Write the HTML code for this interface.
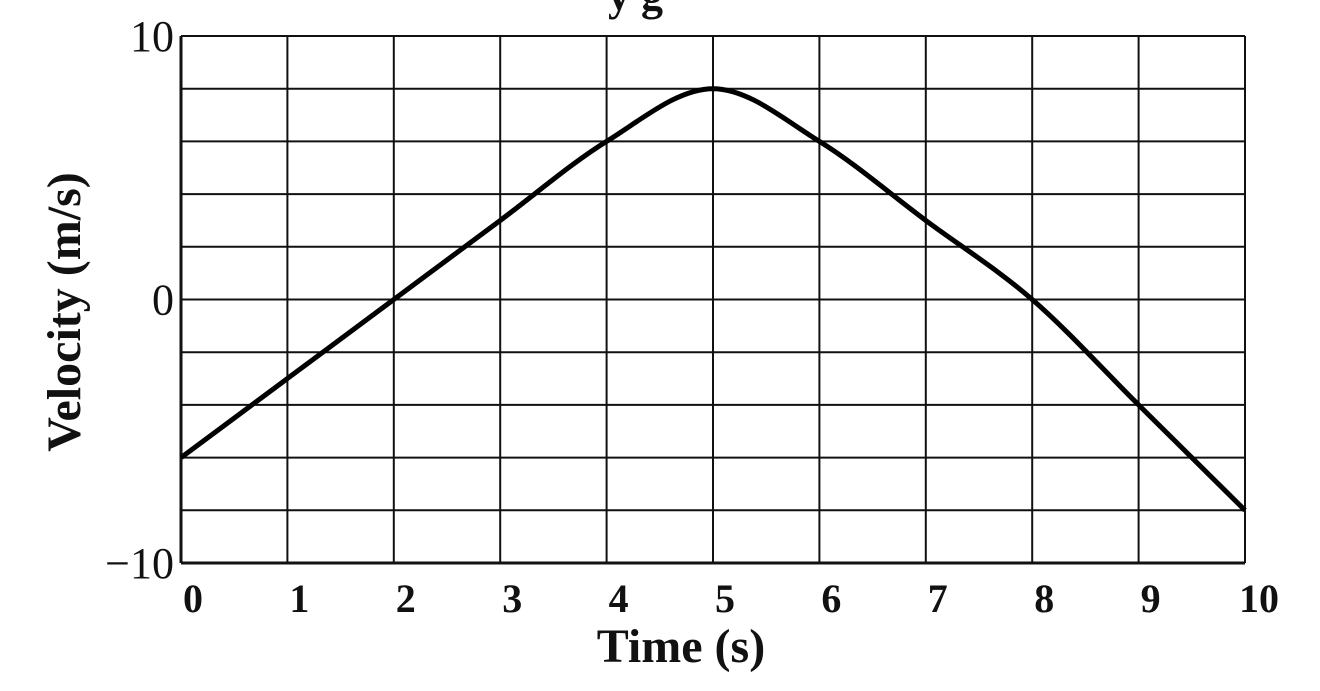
<!DOCTYPE html>
<html><head><meta charset="utf-8"><style>
body{margin:0;background:#fff;width:1320px;height:686px;overflow:hidden}
svg text{font-family:"Liberation Serif",serif;fill:#111}
</style></head><body>
<svg id="c" width="1320" height="686">
<text x="608" y="10" font-size="44" font-weight="bold">y g</text>
<g id="grid"></g>
<path id="curve" fill="none" stroke="#000" stroke-width="5" stroke-linejoin="round"/>
<g id="labels"></g>
<text x="681" y="662" font-size="48" font-weight="bold" text-anchor="middle">Time (s)</text>
<text transform="translate(80,312) rotate(-90)" font-size="48" font-weight="bold" text-anchor="middle">Velocity (m/s)</text>
</svg>
<script>
const times=[0,1,2,3,4,5,6,7,8,9,10];
const velocities=[-6,-3,0,3,6,8,6,3,0,-4,-8];
const xTicks=[0,1,2,3,4,5,6,7,8,9,10];
const yTicks=[10,0,-10];
const yGrid=[-10,-8,-6,-4,-2,0,2,4,6,8,10];
const X0=181,X1=1245,Y0=36,Y1=563;
const sx=t=>X0+(t-0)/(10)*(X1-X0);
const sy=v=>Y1-(v+10)/20*(Y1-Y0);
const NS='http://www.w3.org/2000/svg';
const g=document.getElementById('grid'),lb=document.getElementById('labels');
function mk(tag,at,parent){const e=document.createElementNS(NS,tag);for(const k in at)e.setAttribute(k,at[k]);parent.appendChild(e);return e;}
xTicks.forEach(t=>{
 const l=mk('line',{x1:sx(t),x2:sx(t),y1:Y0,y2:Y1,stroke:'#111','stroke-width':(t===0?3:2)},g);
 
 
 const tx=mk('text',{x:sx(t)+(t===0?12:(t===10?14:12)),y:612,'font-size':40,'font-weight':'bold','text-anchor':'middle'},lb);
 tx.textContent=t;
 
 
});
yGrid.forEach(v=>{
 const l=mk('line',{x1:X0,x2:X1,y1:sy(v),y2:sy(v),stroke:'#111','stroke-width':(v===-10?3:2)},g);
 
 
});
yTicks.forEach(v=>{
 const tx=mk('text',{x:174,y:sy(v)+15,'font-size':44,'text-anchor':'end'},lb);
 tx.textContent=v<0?'\u2212'+Math.abs(v):v;
 
 
});
// monotone cubic (Fritsch-Carlson)
const pts=times.map((t,i)=>[sx(t),sy(velocities[i])]);
const n=pts.length,dl=[],m=[];
for(let i=0;i<n-1;i++)dl.push((pts[i+1][1]-pts[i][1])/(pts[i+1][0]-pts[i][0]));
for(let i=0;i<n;i++){
 if(i===0)m.push(dl[0]);else if(i===n-1)m.push(dl[n-2]);
 else m.push(dl[i-1]*dl[i]<=0?0:(dl[i-1]+dl[i])/2);
}
let d='M'+pts[0][0]+','+pts[0][1];
for(let i=0;i<n-1;i++){
 const h=pts[i+1][0]-pts[i][0];
 d+=` C${pts[i][0]+h/3},${pts[i][1]+m[i]*h/3} ${pts[i+1][0]-h/3},${pts[i+1][1]-m[i+1]*h/3} ${pts[i+1][0]},${pts[i+1][1]}`;
}
document.getElementById('curve').setAttribute('d',d);
</script>
</body></html>
